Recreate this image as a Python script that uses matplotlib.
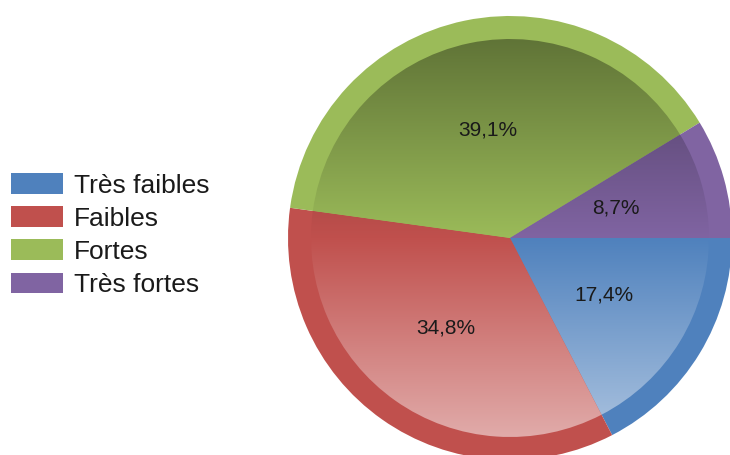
import numpy as np
import matplotlib
matplotlib.use("Agg")
import matplotlib.pyplot as plt
from matplotlib.patches import Patch
from matplotlib.colors import to_rgb

categories = ["Très faibles", "Faibles", "Fortes", "Très fortes"]
values = [4, 8, 9, 2]
colors = ["#4f81bd", "#c0504d", "#9bbb59", "#8064a2"]

W, H = 730, 455
fig = plt.figure(figsize=(W / 100, H / 100), dpi=100)
ax = fig.add_axes([0, 0, 1, 1])
ax.set_xlim(0, W)
ax.set_ylim(0, H)
ax.axis("off")

cx, cy = 510, H - 238
R_out, R_in = 222, 199

# Outer ring (solid colours)
ax.pie(values, colors=colors, startangle=0, counterclock=False,
       center=(cx, cy), radius=R_out, frame=True,
       wedgeprops=dict(linewidth=0))

# Inner gradient disc
def fmt(p):
    return f"{p:.1f}%".replace(".", ",")

wedges, texts, autotexts = ax.pie(
    values, colors=colors, startangle=0, counterclock=False,
    center=(cx, cy), radius=R_in, frame=True, autopct=fmt,
    pctdistance=0.555,
    wedgeprops=dict(linewidth=0),
    textprops=dict(fontsize=15, color="#1a1a1a", family="Liberation Sans"))

n = 400
t = np.linspace(0, 1, n)[:, None]  # 0 at top, 1 at bottom
for w, c in zip(wedges, colors):
    base = np.array(to_rgb(c))[None, :]
    dark = base * 0.62
    light = base + (1 - base) * 0.52
    col = np.where(t < 0.5, dark + (base - dark) * (t / 0.5),
                   base + (light - base) * ((t - 0.5) / 0.5))
    img = np.repeat(col[:, None, :], 2, axis=1)
    im = ax.imshow(img, extent=(cx - R_in, cx + R_in, cy - R_in, cy + R_in),
                   origin="upper", aspect="auto", interpolation="bilinear",
                   zorder=w.get_zorder() + 0.1)
    im.set_clip_path(w)

for at in autotexts:
    at.set_zorder(10)

ax.set_xlim(0, W)
ax.set_ylim(0, H)
ax.set_aspect("equal")

handles = [Patch(facecolor=c, edgecolor="none") for c in colors]
leg = ax.legend(handles, categories, loc="upper left",
                bbox_to_anchor=(11 / W, 1 - 173 / H), bbox_transform=fig.transFigure,
                frameon=False, prop=dict(family="Liberation Sans", size=19),
                handlelength=1.97, handleheight=0.83, handletextpad=0.41,
                labelspacing=0.33, borderaxespad=0, borderpad=0)
for txt in leg.get_texts():
    txt.set_color("#1a1a1a")

fig.savefig("out.png", dpi=100)
